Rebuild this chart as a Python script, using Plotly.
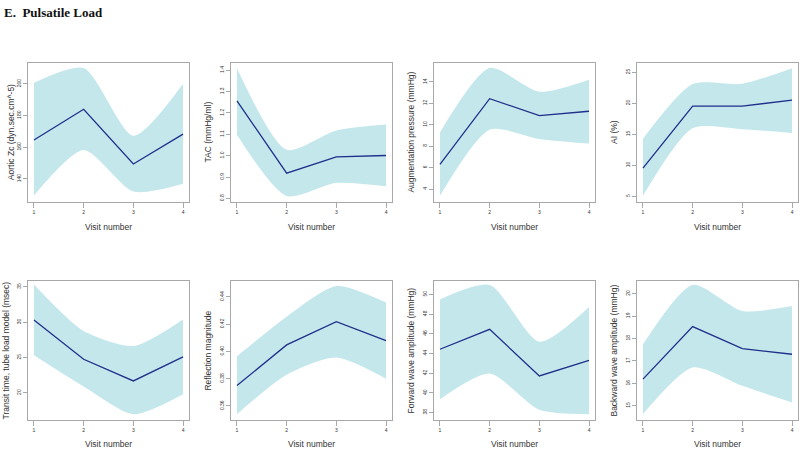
import plotly.graph_objects as go

visits = [1, 2, 3, 4]

titles = [
    "Aortic Zc (dyn.sec.cm^-5)", "TAC (mmHg/ml)", "Augmentation pressure (mmHg)", "AI (%)",
    "Transit time, tube load model (msec)", "Reflection magnitude",
    "Forward wave amplitude (mmHg)", "Backward wave amplitude (mmHg)",
]

zc_mean = [164.5, 183.9, 149.4, 168.2]
zc_upper = [200.6, 209.9, 167.2, 200.0]
zc_lower = [129.5, 158.2, 132.0, 136.9]

tac_mean = [1.257, 0.918, 0.995, 1.001]
tac_upper = [1.409, 1.028, 1.118, 1.146]
tac_lower = [1.098, 0.811, 0.873, 0.857]

ap_mean = [6.31, 12.43, 10.86, 11.26]
ap_upper = [9.29, 15.29, 13.08, 14.2]
ap_lower = [3.38, 9.54, 8.68, 8.25]

ai_mean = [9.56, 19.54, 19.54, 20.49]
ai_upper = [14.28, 23.09, 23.14, 25.64]
ai_lower = [5.1, 15.98, 15.82, 15.19]

tt_mean = [30.3, 24.75, 21.69, 25.08]
tt_upper = [35.33, 28.74, 26.63, 30.39]
tt_lower = [25.31, 20.89, 16.98, 19.81]

rm_mean = [0.375, 0.4048, 0.4218, 0.408]
rm_upper = [0.3964, 0.4255, 0.448, 0.4359]
rm_lower = [0.354, 0.383, 0.3956, 0.380]

fw_mean = [44.43, 46.45, 41.72, 43.31]
fw_upper = [49.49, 50.95, 45.2, 48.72]
fw_lower = [39.36, 41.96, 38.28, 37.84]

bw_mean = [16.19, 18.53, 17.55, 17.3]
bw_upper = [17.74, 20.39, 19.23, 19.45]
bw_lower = [14.63, 16.71, 15.89, 15.15]

means = [zc_mean, tac_mean, ap_mean, ai_mean, tt_mean, rm_mean, fw_mean, bw_mean]
uppers = [zc_upper, tac_upper, ap_upper, ai_upper, tt_upper, rm_upper, fw_upper, bw_upper]
lowers = [zc_lower, tac_lower, ap_lower, ai_lower, tt_lower, rm_lower, fw_lower, bw_lower]

y_ranges = [
    [125.6, 213.4], [0.785, 1.436], [2.83, 15.8], [4.15, 26.54],
    [16.14, 35.8], [0.3496, 0.4516], [37.23, 51.35], [14.36, 20.56],
]
y_ticks = [
    [140, 160, 180, 200],
    [0.8, 0.9, 1.0, 1.1, 1.2, 1.3, 1.4],
    [4, 6, 8, 10, 12, 14],
    [5, 10, 15, 20, 25],
    [20, 25, 30, 35],
    [0.36, 0.38, 0.40, 0.42, 0.44],
    [38, 40, 42, 44, 46, 48, 50],
    [15, 16, 17, 18, 19, 20],
]
y_ticktext = [
    ["140", "160", "180", "200"],
    ["0.8", "0.9", "1.0", "1.1", "1.2", "1.3", "1.4"],
    ["4", "6", "8", "10", "12", "14"],
    ["5", "10", "15", "20", "25"],
    ["20", "25", "30", "35"],
    ["0.36", "0.38", "0.40", "0.42", "0.44"],
    ["38", "40", "42", "44", "46", "48", "50"],
    ["15", "16", "17", "18", "19", "20"],
]

W, H = 800, 449
lefts = [28, 231, 434, 637]
box_w = 161
rows = [(63, 203), (283, 423)]
title_standoffs = [0, 6, 6, 6, 5, 6, 6, 6]

band_color = "#c4e7ec"
line_color = "#1f2f8a"
axis_color = "#a8a8a8"
text_color = "#333333"

fig = go.Figure()
for i in range(8):
    r, c = divmod(i, 4)
    n = "" if i == 0 else str(i + 1)
    xa, ya = "x" + n, "y" + n
    fig.add_trace(go.Scatter(x=visits, y=lowers[i], mode="lines",
                             line=dict(width=0, shape="spline", smoothing=0.7, color=band_color),
                             xaxis=xa, yaxis=ya, showlegend=False, hoverinfo="skip"))
    fig.add_trace(go.Scatter(x=visits, y=uppers[i], mode="lines", fill="tonexty",
                             fillcolor=band_color,
                             line=dict(width=0, shape="spline", smoothing=0.7, color=band_color),
                             xaxis=xa, yaxis=ya, showlegend=False, hoverinfo="skip"))
    fig.add_trace(go.Scatter(x=visits, y=means[i], mode="lines",
                             line=dict(width=1.3, color=line_color),
                             xaxis=xa, yaxis=ya, showlegend=False))
    top, bot = rows[r]
    xd = [lefts[c] / W, (lefts[c] + box_w) / W]
    yd = [1 - bot / H, 1 - top / H]
    fig.update_layout(**{
        "xaxis" + n: dict(domain=xd, range=[0.88, 4.12], anchor=ya,
                          tickvals=visits, ticktext=["1", "2", "3", "4"],
                          showgrid=False, zeroline=False,
                          showline=True, mirror=True, linecolor=axis_color, linewidth=1,
                          ticks="outside", ticklen=5, tickcolor=axis_color,
                          tickfont=dict(size=5, color=text_color),
                          title=dict(text="Visit number", standoff=10,
                                     font=dict(size=8.5, color=text_color))),
        "yaxis" + n: dict(domain=yd, range=y_ranges[i], anchor=xa,
                          tickvals=y_ticks[i], ticktext=y_ticktext[i], tickangle=-90,
                          showgrid=False, zeroline=False,
                          showline=True, mirror=True, linecolor=axis_color, linewidth=1,
                          ticks="outside", ticklen=4, tickcolor=axis_color,
                          tickfont=dict(size=5, color=text_color),
                          title=dict(text=titles[i], standoff=title_standoffs[i],
                                     font=dict(size=8.5, color=text_color))),
    })

fig.add_annotation(text="<b>E.  Pulsatile Load</b>", xref="paper", yref="paper",
                   x=2 / W, y=1 - 13 / H, xanchor="left", yanchor="middle", showarrow=False,
                   font=dict(family="Liberation Serif", size=13, color="#111111"))

fig.update_layout(width=W, height=H, margin=dict(l=0, r=0, t=0, b=0),
                  paper_bgcolor="white", plot_bgcolor="white",
                  font=dict(family="Liberation Sans, Arial, sans-serif", color=text_color))

fig.write_html("out.html", config={"displayModeBar": False},
               post_script="document.body.style.margin='0';document.body.style.overflow='hidden';")
